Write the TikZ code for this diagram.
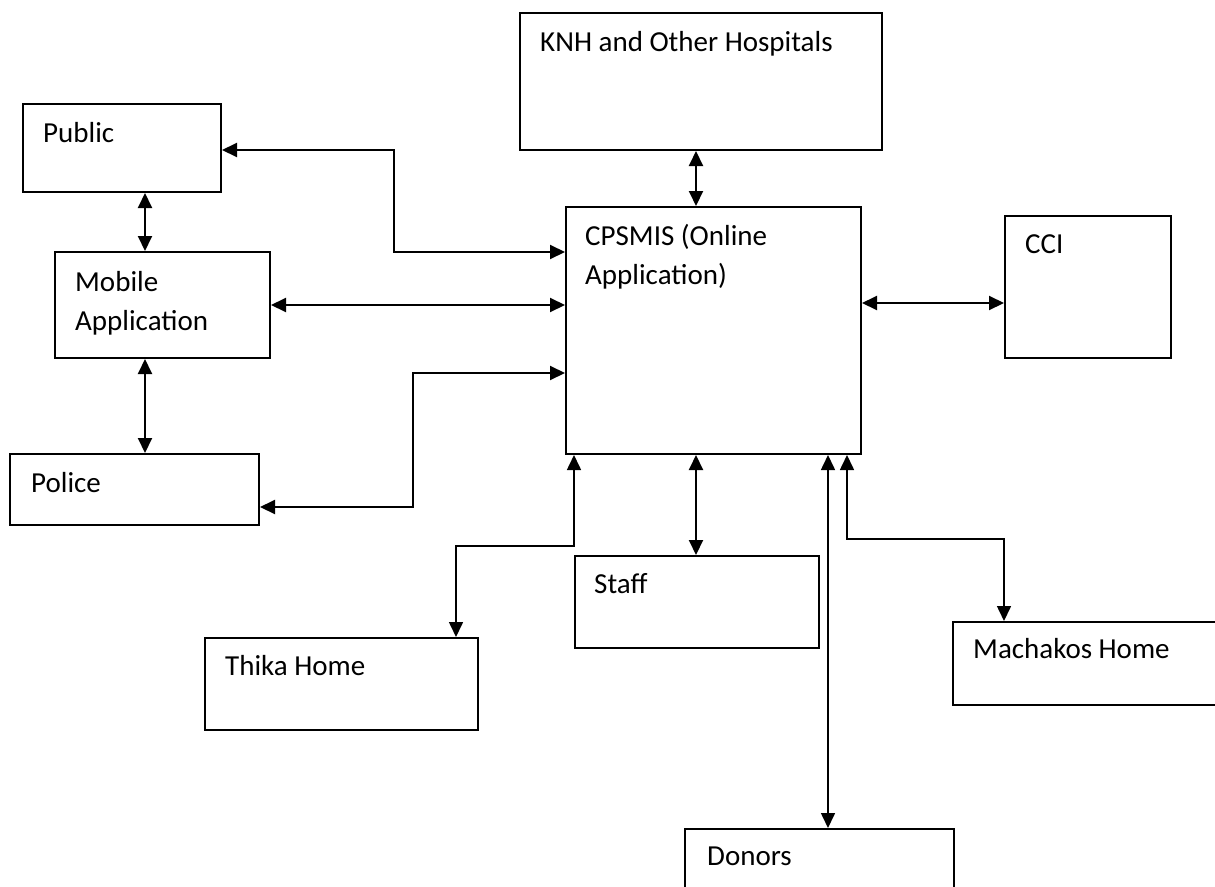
\documentclass[tikz,border=0pt]{standalone}
\usepackage{fontspec}
\setmainfont{Carlito}
\usetikzlibrary{arrows.meta,positioning}

\begin{document}
\begin{tikzpicture}[x=1pt, y=-1pt,
	box/.style={draw, line width=2pt, anchor=north west, inner sep=0pt},
	txt/.style={anchor=base west, inner sep=0pt, font=\fontsize{29}{39}\selectfont, align=left},
	link/.style={{Triangle[length=15pt,width=14pt]}-{Triangle[length=15pt,width=14pt]}, line width=2pt},
	thin link/.style={link, line width=1.6pt}]
	\useasboundingbox (0,0) rectangle (1215,886);
	\clip (0,0) rectangle (1215,886);
	\node[box, minimum width=362pt, minimum height=137pt] (knh) at (519,12) {};
	\node[box, minimum width=198pt, minimum height=88pt] (public) at (22,103) {};
	\node[box, minimum width=215pt, minimum height=106pt] (mobile) at (54,251) {};
	\node[box, minimum width=249pt, minimum height=71pt] (police) at (9,453) {};
	\node[box, minimum width=295pt, minimum height=247pt] (cpsmis) at (565,206) {};
	\node[box, minimum width=166pt, minimum height=142pt] (cci) at (1004,215) {};
	\node[box, minimum width=244pt, minimum height=92pt] (staff) at (574,555) {};
	\node[box, minimum width=273pt, minimum height=92pt] (thika) at (204,637) {};
	\node[box, minimum width=290pt, minimum height=83pt] (machakos) at (952,621) {};
	\node[box, minimum width=269pt, minimum height=90pt] (donors) at (684,828) {};
	\node[txt] (knh-t) at ([shift={(21pt,-39pt)}]knh.north west) {KNH and Other Hospitals};
	\node[txt] (public-t) at ([shift={(21pt,-39pt)}]public.north west) {Public};
	\node[txt] (mobile-t) at ([shift={(21pt,-79pt)}]mobile.north west) {Mobile\\Application};
	\node[txt] (police-t) at ([shift={(22pt,-39pt)}]police.north west) {Police};
	\node[txt] (cpsmis-t) at ([shift={(20pt,-78pt)}]cpsmis.north west) {CPSMIS (Online\\Application)};
	\node[txt] (cci-t) at ([shift={(21pt,-38pt)}]cci.north west) {CCI};
	\node[txt] (staff-t) at ([shift={(20pt,-38pt)}]staff.north west) {Staff};
	\node[txt] (thika-t) at ([shift={(21pt,-38pt)}]thika.north west) {Thika Home};
	\node[txt] (machakos-t) at ([shift={(21pt,-37pt)}]machakos.north west) {Machakos Home};
	\node[txt] (donors-t) at ([shift={(23pt,-37pt)}]donors.north west) {Donors};
	\draw[link] ([yshift=-47pt]public.north east) -- ++(172pt,0) |- ([yshift=-46pt]cpsmis.north west);
	\draw[link] ([xshift=123pt]public.south west) -- ([xshift=91pt]mobile.north west);
	\draw[link] (mobile.east) -- (mobile.east -| cpsmis.west);
	\draw[link] ([xshift=91pt]mobile.south west) -- ([xshift=136pt]police.north west);
	\draw[link] ([yshift=19pt]police.south east) -- ++(153pt,0) |- ([yshift=-167pt]cpsmis.north west);
	\draw[link] ([xshift=177pt]knh.south west) -- ([xshift=131pt]cpsmis.north west);
	\draw[link] ([yshift=-97pt]cpsmis.north east) -- ([yshift=-88pt]cci.north west);
	\draw[link] ([xshift=131pt]cpsmis.south west) -- ([xshift=122pt]staff.north west);
	\draw[thin link] ([xshift=9pt]cpsmis.south west) -- ++(0,-91pt) -| ([xshift=252pt]thika.north west);
	\draw[thin link] ([xshift=263pt]cpsmis.south west) -- ([xshift=144pt]donors.north west);
	\draw[thin link] ([xshift=282pt]cpsmis.south west) -- ++(0,-84pt) -| ([xshift=52pt]machakos.north west);
\end{tikzpicture}
\end{document}
